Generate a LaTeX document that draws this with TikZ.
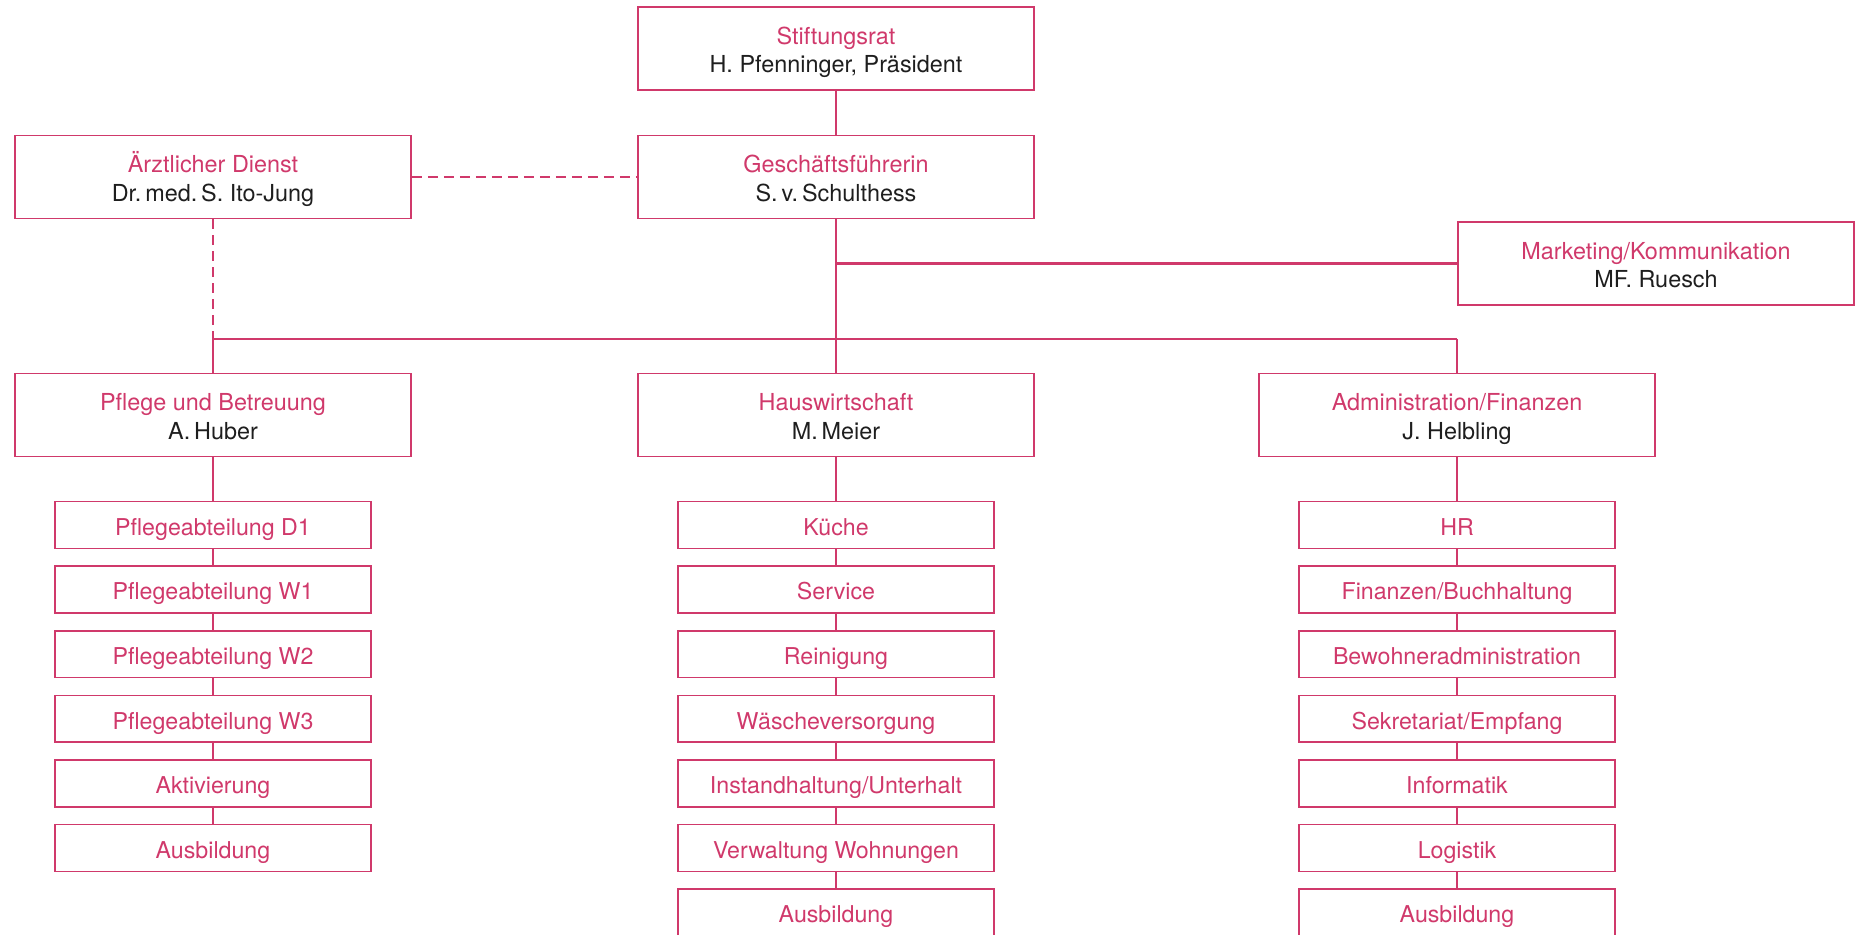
\documentclass[tikz,border=0pt]{standalone}
\usepackage{fontspec}
\setmainfont{TeX Gyre Heros}
\usetikzlibrary{positioning}

\definecolor{rose}{RGB}{208,57,107}
\definecolor{ink}{RGB}{30,30,30}

\tikzset{
  box/.style={draw=rose, line width=0.8pt, minimum width=198pt, minimum height=41.5pt,
    align=center, inner sep=0pt, font=\fontsize{11.7}{14.15}\selectfont, text=ink},
  unit/.style={draw=rose, line width=0.8pt, minimum width=158pt, minimum height=23.4pt,
    inner sep=0pt, text height=12.4pt, text depth=2pt,
    font=\fontsize{11.6}{14}\selectfont, text=rose},
  link/.style={draw=rose, line width=0.75pt},
  hbar/.style={draw=rose, line width=1.3pt},
  dashlink/.style={draw=rose, line width=0.9pt, dash pattern=on 5pt off 3pt}
}

% title (rose) over name (black)
\newcommand\head[2]{\textcolor{rose}{\rule{0pt}{12.85pt}#1}\\#2\rule[-3pt]{0pt}{3pt}}

% units below a head, each linked to the one above
\newcommand\subunits[3]{%
  \foreach \txt [count=\i] in {#3} {
    \pgfmathsetmacro\gap{21.7+(\i-1)*32.3}
    \node[unit, below=\gap pt of #1] (#2\i) {\txt};
    \ifnum\i=1
      \draw[link] (#1) -- (#2\i);
    \else
      \pgfmathtruncatemacro\j{\i-1}
      \draw[link] (#2\j) -- (#2\i);
    \fi
  }%
}

\begin{document}
\begin{tikzpicture}
\useasboundingbox (0,0) rectangle (931.5pt,-467pt);

\node[box] (rat) at (418pt,-24.25pt) {\head{Stiftungsrat}{H. Pfenninger, Präsident}};
\node[box] (gf) at (418pt,-88.5pt) {\head{Geschäftsführerin}{S.\,v.\,Schulthess}};
\node[box] (arzt) at (106.5pt,-88.5pt) {\head{Ärztlicher Dienst}{Dr.\,med.\,S. Ito-Jung}};
\node[box] (mk) at (828pt,-131.75pt) {\head{Marketing/Kommunikation}{MF. Ruesch}};

\node[box] (pflege) at (106.5pt,-207.5pt) {\head{Pflege und Betreuung}{A.\,Huber}};
\node[box] (haus) at (418pt,-207.5pt) {\head{Hauswirtschaft}{M.\,Meier}};
\node[box] (admin) at (728.5pt,-207.5pt) {\head{Administration/Finanzen}{J. Helbling}};

\coordinate (bar) at (0,-169.5pt);

\draw[link] (rat) -- (gf);
\draw[link] (gf) -- (haus);
\draw[hbar] (gf.south |- mk.west) -- (mk.west);
\draw[hbar] (pflege.north |- bar) -- (admin.north |- bar);
\draw[link] (pflege.north |- bar) -- (pflege.north);
\draw[link] (admin.north |- bar) -- (admin.north);
\draw[dashlink] (arzt.east) -- (gf.west);
\draw[dashlink] (arzt.south) -- (arzt.south |- bar);

\subunits{pflege}{p}{Pflegeabteilung D1, Pflegeabteilung W1, Pflegeabteilung W2,
  Pflegeabteilung W3, Aktivierung, Ausbildung}
\subunits{haus}{h}{Küche, Service, Reinigung, Wäscheversorgung,
  Instandhaltung/Unterhalt, Verwaltung Wohnungen, Ausbildung}
\subunits{admin}{a}{HR, Finanzen/Buchhaltung, Bewohneradministration,
  Sekretariat/Empfang, Informatik, Logistik, Ausbildung}
\end{tikzpicture}
\end{document}
